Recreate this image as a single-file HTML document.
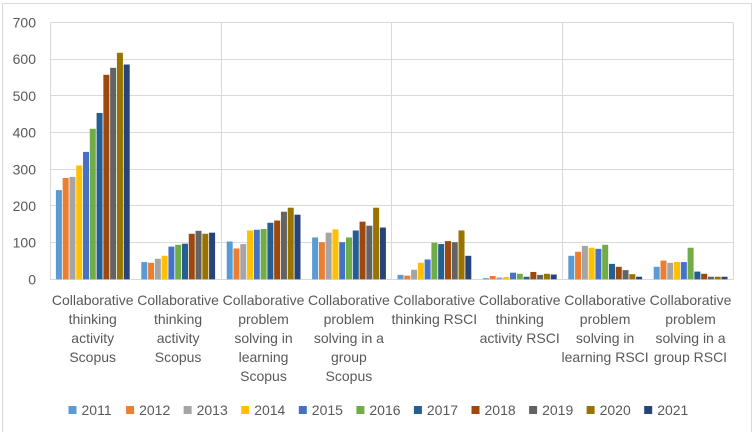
<!DOCTYPE html>
<html>
<head>
<meta charset="utf-8">
<style>
  html,body{margin:0;padding:0;background:#fff;}
  svg{display:block;}
  text{font-family:"Liberation Sans",sans-serif;font-size:14px;fill:#595959;}
</style>
</head>
<body>
<svg width="754" height="439" viewBox="0 0 754 439" xmlns="http://www.w3.org/2000/svg">
  <rect x="0" y="0" width="754" height="439" fill="#fff"/>
  <!-- outer border -->
  <path d="M2.5 432 V3.5 H751.5 V432" fill="none" stroke="#d9d9d9" stroke-width="1"/>

  <!-- horizontal gridlines -->
  <g stroke="#d9d9d9" stroke-width="1">
    <line x1="50" y1="22.5" x2="733.5" y2="22.5"/>
    <line x1="50" y1="59.5" x2="733.5" y2="59.5"/>
    <line x1="50" y1="95.5" x2="733.5" y2="95.5"/>
    <line x1="50" y1="132.5" x2="733.5" y2="132.5"/>
    <line x1="50" y1="169.5" x2="733.5" y2="169.5"/>
    <line x1="50" y1="205.5" x2="733.5" y2="205.5"/>
    <line x1="50" y1="242.5" x2="733.5" y2="242.5"/>
    <line x1="50" y1="279.5" x2="733.5" y2="279.5"/>
    <!-- vertical gridlines -->
    <line x1="50.5" y1="22.5" x2="50.5" y2="279.5"/>
    <line x1="221.5" y1="22.5" x2="221.5" y2="279.5"/>
    <line x1="391.5" y1="22.5" x2="391.5" y2="279.5"/>
    <line x1="562.5" y1="22.5" x2="562.5" y2="279.5"/>
    <line x1="733.5" y1="22.5" x2="733.5" y2="279.5"/>
  </g>

  <!-- y axis labels -->
  <g text-anchor="end">
    <text x="36" y="27.5">700</text>
    <text x="36" y="64.2">600</text>
    <text x="36" y="100.9">500</text>
    <text x="36" y="137.6">400</text>
    <text x="36" y="174.3">300</text>
    <text x="36" y="211.0">200</text>
    <text x="36" y="247.7">100</text>
    <text x="36" y="284.4">0</text>
  </g>

  <!-- bars: each group flipped so rect height = value -->
  <!-- Group 1 -->
  <g transform="translate(55.9,279.3) scale(1,-0.36714)">
    <rect x="0" y="0" width="6" height="243" fill="#5B9BD5"/>
    <rect x="6.78" y="0" width="6" height="276" fill="#ED7D31"/>
    <rect x="13.56" y="0" width="6" height="279" fill="#A5A5A5"/>
    <rect x="20.34" y="0" width="6" height="310" fill="#FFC000"/>
    <rect x="27.12" y="0" width="6" height="347" fill="#4472C4"/>
    <rect x="33.9" y="0" width="6" height="410" fill="#70AD47"/>
    <rect x="40.68" y="0" width="6" height="453" fill="#255E91"/>
    <rect x="47.46" y="0" width="6" height="557" fill="#9E480E"/>
    <rect x="54.24" y="0" width="6" height="576" fill="#636363"/>
    <rect x="61.02" y="0" width="6" height="617" fill="#997300"/>
    <rect x="67.8" y="0" width="6" height="585" fill="#264478"/>
  </g>
  <!-- Group 2 -->
  <g transform="translate(141.3,279.3) scale(1,-0.36714)">
    <rect x="0" y="0" width="6" height="47" fill="#5B9BD5"/>
    <rect x="6.78" y="0" width="6" height="45" fill="#ED7D31"/>
    <rect x="13.56" y="0" width="6" height="56" fill="#A5A5A5"/>
    <rect x="20.34" y="0" width="6" height="64" fill="#FFC000"/>
    <rect x="27.12" y="0" width="6" height="89" fill="#4472C4"/>
    <rect x="33.9" y="0" width="6" height="94" fill="#70AD47"/>
    <rect x="40.68" y="0" width="6" height="97" fill="#255E91"/>
    <rect x="47.46" y="0" width="6" height="124" fill="#9E480E"/>
    <rect x="54.24" y="0" width="6" height="132" fill="#636363"/>
    <rect x="61.02" y="0" width="6" height="124" fill="#997300"/>
    <rect x="67.8" y="0" width="6" height="127" fill="#264478"/>
  </g>
  <!-- Group 3 -->
  <g transform="translate(226.7,279.3) scale(1,-0.36714)">
    <rect x="0" y="0" width="6" height="103" fill="#5B9BD5"/>
    <rect x="6.78" y="0" width="6" height="84" fill="#ED7D31"/>
    <rect x="13.56" y="0" width="6" height="96" fill="#A5A5A5"/>
    <rect x="20.34" y="0" width="6" height="133" fill="#FFC000"/>
    <rect x="27.12" y="0" width="6" height="135" fill="#4472C4"/>
    <rect x="33.9" y="0" width="6" height="137" fill="#70AD47"/>
    <rect x="40.68" y="0" width="6" height="154" fill="#255E91"/>
    <rect x="47.46" y="0" width="6" height="160" fill="#9E480E"/>
    <rect x="54.24" y="0" width="6" height="184" fill="#636363"/>
    <rect x="61.02" y="0" width="6" height="195" fill="#997300"/>
    <rect x="67.8" y="0" width="6" height="176" fill="#264478"/>
  </g>
  <!-- Group 4 -->
  <g transform="translate(312.1,279.3) scale(1,-0.36714)">
    <rect x="0" y="0" width="6" height="114" fill="#5B9BD5"/>
    <rect x="6.78" y="0" width="6" height="101" fill="#ED7D31"/>
    <rect x="13.56" y="0" width="6" height="127" fill="#A5A5A5"/>
    <rect x="20.34" y="0" width="6" height="136" fill="#FFC000"/>
    <rect x="27.12" y="0" width="6" height="101" fill="#4472C4"/>
    <rect x="33.9" y="0" width="6" height="114" fill="#70AD47"/>
    <rect x="40.68" y="0" width="6" height="133" fill="#255E91"/>
    <rect x="47.46" y="0" width="6" height="157" fill="#9E480E"/>
    <rect x="54.24" y="0" width="6" height="146" fill="#636363"/>
    <rect x="61.02" y="0" width="6" height="195" fill="#997300"/>
    <rect x="67.8" y="0" width="6" height="141" fill="#264478"/>
  </g>
  <!-- Group 5 -->
  <g transform="translate(397.5,279.3) scale(1,-0.36714)">
    <rect x="0" y="0" width="6" height="12" fill="#5B9BD5"/>
    <rect x="6.78" y="0" width="6" height="10" fill="#ED7D31"/>
    <rect x="13.56" y="0" width="6" height="26" fill="#A5A5A5"/>
    <rect x="20.34" y="0" width="6" height="45" fill="#FFC000"/>
    <rect x="27.12" y="0" width="6" height="54" fill="#4472C4"/>
    <rect x="33.9" y="0" width="6" height="100" fill="#70AD47"/>
    <rect x="40.68" y="0" width="6" height="96" fill="#255E91"/>
    <rect x="47.46" y="0" width="6" height="104" fill="#9E480E"/>
    <rect x="54.24" y="0" width="6" height="101" fill="#636363"/>
    <rect x="61.02" y="0" width="6" height="133" fill="#997300"/>
    <rect x="67.8" y="0" width="6" height="64" fill="#264478"/>
  </g>
  <!-- Group 6 -->
  <g transform="translate(482.9,279.3) scale(1,-0.36714)">
    <rect x="0" y="0" width="6" height="3" fill="#5B9BD5"/>
    <rect x="6.78" y="0" width="6" height="9" fill="#ED7D31"/>
    <rect x="13.56" y="0" width="6" height="5" fill="#A5A5A5"/>
    <rect x="20.34" y="0" width="6" height="6" fill="#FFC000"/>
    <rect x="27.12" y="0" width="6" height="18" fill="#4472C4"/>
    <rect x="33.9" y="0" width="6" height="15" fill="#70AD47"/>
    <rect x="40.68" y="0" width="6" height="7" fill="#255E91"/>
    <rect x="47.46" y="0" width="6" height="20" fill="#9E480E"/>
    <rect x="54.24" y="0" width="6" height="12" fill="#636363"/>
    <rect x="61.02" y="0" width="6" height="15" fill="#997300"/>
    <rect x="67.8" y="0" width="6" height="13" fill="#264478"/>
  </g>
  <!-- Group 7 -->
  <g transform="translate(568.3,279.3) scale(1,-0.36714)">
    <rect x="0" y="0" width="6" height="64" fill="#5B9BD5"/>
    <rect x="6.78" y="0" width="6" height="75" fill="#ED7D31"/>
    <rect x="13.56" y="0" width="6" height="91" fill="#A5A5A5"/>
    <rect x="20.34" y="0" width="6" height="86" fill="#FFC000"/>
    <rect x="27.12" y="0" width="6" height="83" fill="#4472C4"/>
    <rect x="33.9" y="0" width="6" height="94" fill="#70AD47"/>
    <rect x="40.68" y="0" width="6" height="42" fill="#255E91"/>
    <rect x="47.46" y="0" width="6" height="34" fill="#9E480E"/>
    <rect x="54.24" y="0" width="6" height="25" fill="#636363"/>
    <rect x="61.02" y="0" width="6" height="14" fill="#997300"/>
    <rect x="67.8" y="0" width="6" height="7" fill="#264478"/>
  </g>
  <!-- Group 8 -->
  <g transform="translate(653.7,279.3) scale(1,-0.36714)">
    <rect x="0" y="0" width="6" height="34" fill="#5B9BD5"/>
    <rect x="6.78" y="0" width="6" height="51" fill="#ED7D31"/>
    <rect x="13.56" y="0" width="6" height="45" fill="#A5A5A5"/>
    <rect x="20.34" y="0" width="6" height="47" fill="#FFC000"/>
    <rect x="27.12" y="0" width="6" height="47" fill="#4472C4"/>
    <rect x="33.9" y="0" width="6" height="86" fill="#70AD47"/>
    <rect x="40.68" y="0" width="6" height="21" fill="#255E91"/>
    <rect x="47.46" y="0" width="6" height="15" fill="#9E480E"/>
    <rect x="54.24" y="0" width="6" height="7" fill="#636363"/>
    <rect x="61.02" y="0" width="6" height="7" fill="#997300"/>
    <rect x="67.8" y="0" width="6" height="7" fill="#264478"/>
  </g>

  <!-- category labels -->
  <g text-anchor="middle">
    <text x="92.7" y="305">Collaborative</text>
    <text x="92.7" y="324">thinking</text>
    <text x="92.7" y="343">activity</text>
    <text x="92.7" y="362">Scopus</text>

    <text x="178.1" y="305">Collaborative</text>
    <text x="178.1" y="324">thinking</text>
    <text x="178.1" y="343">activity</text>
    <text x="178.1" y="362">Scopus</text>

    <text x="263.5" y="305">Collaborative</text>
    <text x="263.5" y="324">problem</text>
    <text x="263.5" y="343">solving in</text>
    <text x="263.5" y="362">learning</text>
    <text x="263.5" y="381">Scopus</text>

    <text x="348.9" y="305">Collaborative</text>
    <text x="348.9" y="324">problem</text>
    <text x="348.9" y="343">solving in a</text>
    <text x="348.9" y="362">group</text>
    <text x="348.9" y="381">Scopus</text>

    <text x="434.3" y="305">Collaborative</text>
    <text x="434.3" y="324">thinking RSCI</text>

    <text x="519.7" y="305">Collaborative</text>
    <text x="519.7" y="324">thinking</text>
    <text x="519.7" y="343">activity RSCI</text>

    <text x="605.1" y="305">Collaborative</text>
    <text x="605.1" y="324">problem</text>
    <text x="605.1" y="343">solving in</text>
    <text x="605.1" y="362">learning RSCI</text>

    <text x="690.5" y="305">Collaborative</text>
    <text x="690.5" y="324">problem</text>
    <text x="690.5" y="343">solving in a</text>
    <text x="690.5" y="362">group RSCI</text>
  </g>

  <!-- legend -->
  <g>
    <rect x="68.5" y="406" width="8" height="8" fill="#5B9BD5"/><text x="81.5" y="415">2011</text>
    <rect x="126.1" y="406" width="8" height="8" fill="#ED7D31"/><text x="139.1" y="415">2012</text>
    <rect x="183.6" y="406" width="8" height="8" fill="#A5A5A5"/><text x="196.6" y="415">2013</text>
    <rect x="241.2" y="406" width="8" height="8" fill="#FFC000"/><text x="254.2" y="415">2014</text>
    <rect x="298.8" y="406" width="8" height="8" fill="#4472C4"/><text x="311.8" y="415">2015</text>
    <rect x="356.4" y="406" width="8" height="8" fill="#70AD47"/><text x="369.4" y="415">2016</text>
    <rect x="413.9" y="406" width="8" height="8" fill="#255E91"/><text x="426.9" y="415">2017</text>
    <rect x="471.5" y="406" width="8" height="8" fill="#9E480E"/><text x="484.5" y="415">2018</text>
    <rect x="529.1" y="406" width="8" height="8" fill="#636363"/><text x="542.1" y="415">2019</text>
    <rect x="586.6" y="406" width="8" height="8" fill="#997300"/><text x="599.6" y="415">2020</text>
    <rect x="644.2" y="406" width="8" height="8" fill="#264478"/><text x="657.2" y="415">2021</text>
  </g>
</svg>
</body>
</html>
